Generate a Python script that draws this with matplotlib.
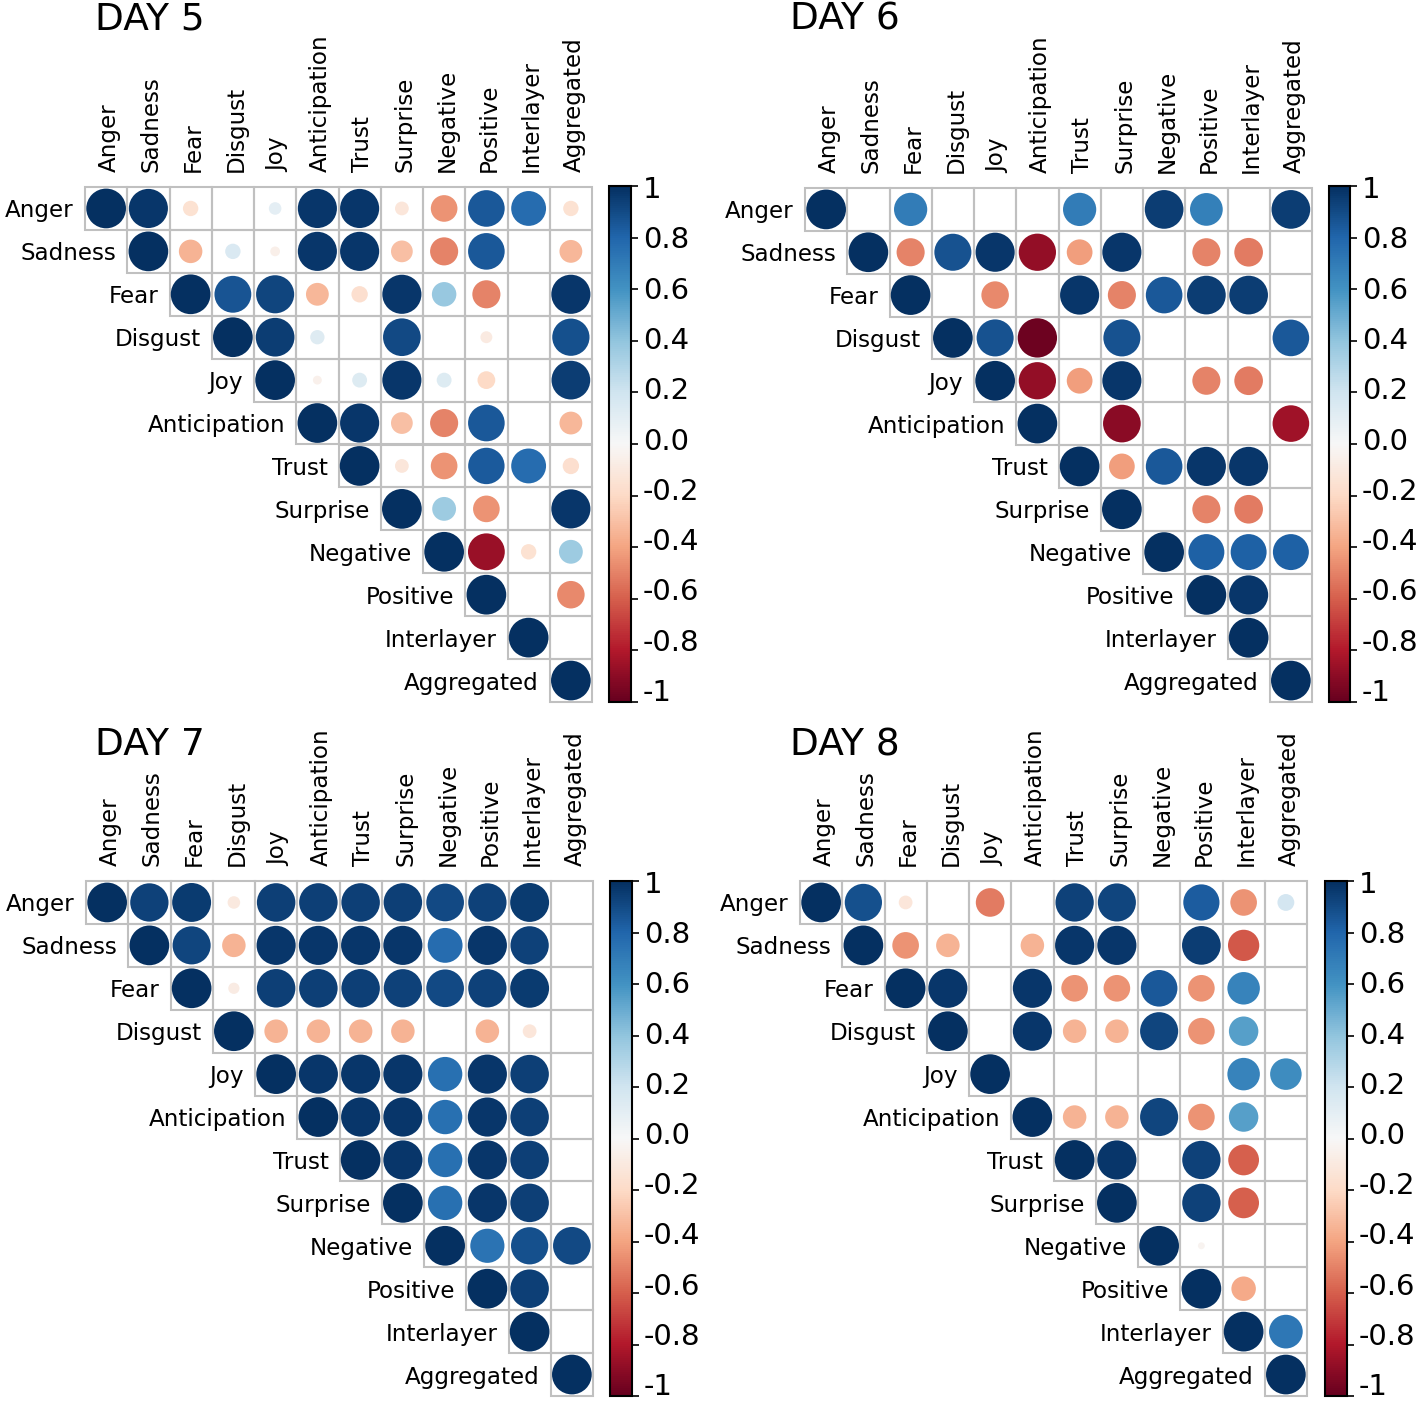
import numpy as np
import matplotlib
matplotlib.use('Agg')
import matplotlib.pyplot as plt
from matplotlib.patches import Rectangle
from matplotlib.transforms import ScaledTranslation

nan = np.nan
labels = ['Anger', 'Sadness', 'Fear', 'Disgust', 'Joy', 'Anticipation',
          'Trust', 'Surprise', 'Negative', 'Positive', 'Interlayer', 'Aggregated']

# upper triangle, each row starts at the diagonal; nan = not shown
day5 = [
    [1, 0.97, -0.15, nan, 0.1, 0.97, 0.97, -0.12, -0.45, 0.85, 0.77, -0.15],
    [1, -0.35, 0.15, -0.06, 0.97, 0.97, -0.3, -0.5, 0.85, nan, -0.33],
    [1, 0.86, 0.92, -0.33, -0.17, 0.97, 0.38, -0.5, nan, 0.97],
    [1, 0.95, 0.13, nan, 0.9, nan, -0.09, nan, 0.88],
    [1, -0.05, 0.14, 0.97, 0.14, -0.2, nan, 0.95],
    [1, 0.97, -0.3, -0.5, 0.85, nan, -0.33],
    [1, -0.12, -0.45, 0.84, 0.77, -0.17],
    [1, 0.36, -0.45, nan, 0.97],
    [1, -0.86, -0.15, 0.36],
    [1, nan, -0.48],
    [1, nan],
    [1],
]
day6 = [
    [1, nan, 0.7, nan, nan, nan, 0.7, nan, 0.95, 0.68, nan, 0.95],
    [1, -0.5, 0.87, 0.97, -0.88, -0.42, 0.97, nan, -0.5, -0.52, nan],
    [1, nan, -0.48, nan, 0.97, -0.5, 0.85, 0.95, 0.95, nan],
    [1, 0.87, -0.98, nan, 0.87, nan, nan, nan, 0.85],
    [1, -0.88, -0.42, 0.97, nan, -0.5, -0.52, nan],
    [1, nan, -0.9, nan, nan, nan, -0.85],
    [1, -0.42, 0.85, 0.97, 0.97, nan],
    [1, nan, -0.5, -0.52, nan],
    [1, 0.82, 0.82, 0.82],
    [1, 0.97, nan],
    [1, nan],
    [1],
]
day7 = [
    [1, 0.93, 0.96, -0.1, 0.94, 0.94, 0.94, 0.94, 0.9, 0.93, 0.96, nan],
    [1, 0.92, -0.35, 0.97, 0.97, 0.97, 0.97, 0.77, 0.97, 0.93, nan],
    [1, -0.08, 0.94, 0.94, 0.94, 0.93, 0.9, 0.93, 0.96, nan],
    [1, -0.35, -0.35, -0.35, -0.35, nan, -0.35, -0.12, nan],
    [1, 0.97, 0.97, 0.97, 0.75, 0.97, 0.94, nan],
    [1, 0.97, 0.97, 0.75, 0.97, 0.94, nan],
    [1, 0.97, 0.75, 0.97, 0.94, nan],
    [1, 0.75, 0.97, 0.94, nan],
    [1, 0.74, 0.88, 0.9],
    [1, 0.94, nan],
    [1, nan],
    [1],
]
day8 = [
    [1, 0.88, -0.12, nan, -0.52, nan, 0.93, 0.92, nan, 0.83, -0.45, 0.18],
    [1, -0.45, -0.35, nan, -0.35, 0.97, 0.97, nan, 0.95, -0.62, nan],
    [1, 0.97, nan, 0.97, -0.45, -0.45, 0.85, -0.45, 0.67, nan],
    [1, nan, 0.97, -0.35, -0.35, 0.92, -0.45, 0.55, nan],
    [1, nan, nan, nan, nan, nan, 0.67, 0.63],
    [1, -0.35, -0.35, 0.92, -0.45, 0.55, nan],
    [1, 0.97, nan, 0.93, -0.6, nan],
    [1, nan, 0.93, -0.6, nan],
    [1, -0.03, nan, nan],
    [1, -0.38, nan],
    [1, 0.72],
    [1],
]
titles = ['DAY 5', 'DAY 6', 'DAY 7', 'DAY 8']
cbar_ticks = [1, 0.8, 0.6, 0.4, 0.2, 0.0, -0.2, -0.4, -0.6, -0.8, -1]
cbar_ticklabels = ['1', '0.8', '0.6', '0.4', '0.2', '0.0', '-0.2', '-0.4', '-0.6', '-0.8', '-1']

W, H = 1418, 1405
fig = plt.figure(figsize=(W / 100, H / 100), dpi=100)

def px(x0, y0, x1, y1):
    return [x0 / W, 1 - y1 / H, (x1 - x0) / W, (y1 - y0) / H]

# (grid box, colorbar box, title x, title baseline y) in pixels
layout = [
    ((85, 187, 592, 702), (609, 186, 631, 702), 95, 29),
    ((805, 188, 1312, 702), (1329, 186, 1350, 702), 790, 29),
    ((86, 881, 593, 1396), (610, 881, 632, 1396), 95, 755),
    ((800, 881, 1307, 1396), (1325, 881, 1347, 1396), 790, 755),
]

n = len(labels)
for data, title, (g, c, tx, ty) in zip([day5, day6, day7, day8], titles, layout):
    ax = fig.add_axes(px(*g))
    ax.set_xlim(0, n)
    ax.set_ylim(n, 0)
    ax.axis('off')

    xs, ys, vs = [], [], []
    for i, row in enumerate(data):
        for k, v in enumerate(row):
            j = i + k
            ax.add_patch(Rectangle((j, i), 1, 1, fill=False, edgecolor='#c0c0c0', lw=1.5, clip_on=False))
            if not np.isnan(v):
                xs.append(j + 0.5)
                ys.append(i + 0.5)
                vs.append(v)
    vs = np.array(vs)
    cell_pt = (g[2] - g[0]) / n / 100 * 72
    sizes = (0.94 * cell_pt) ** 2 * np.abs(vs)
    sc = ax.scatter(xs, ys, s=sizes, c=vs, cmap='RdBu', vmin=-1, vmax=1, linewidths=0, zorder=3)

    for i, lab in enumerate(labels):
        ax.text(i - 0.26, i + 0.5, lab, ha='right', va='center_baseline', fontsize=16.6)
        ax.text(i + 0.57, -0.35, lab, ha='center', va='bottom', rotation=90, fontsize=16.6)

    fig.text(tx / W, 1 - ty / H, title, fontsize=27, ha='left', va='baseline')

    cax = fig.add_axes(px(*c))
    cb = fig.colorbar(sc, cax=cax)
    cb.set_ticks(cbar_ticks)
    cb.set_ticklabels(cbar_ticklabels)
    cb.ax.tick_params(labelsize=21, length=5, width=1.2)
    for t, lbl in zip(cbar_ticks, cb.ax.get_yticklabels()):
        lbl.set_va('center')
        # labels sit slightly squeezed towards the middle, as in the original
        dy = (-4 + 6.5 * (1 - t)) * 0.72
        lbl.set_transform(lbl.get_transform() + ScaledTranslation(0, dy / 72, fig.dpi_scale_trans))
    cb.outline.set_linewidth(1.5)

fig.savefig('out.png', dpi=100)
